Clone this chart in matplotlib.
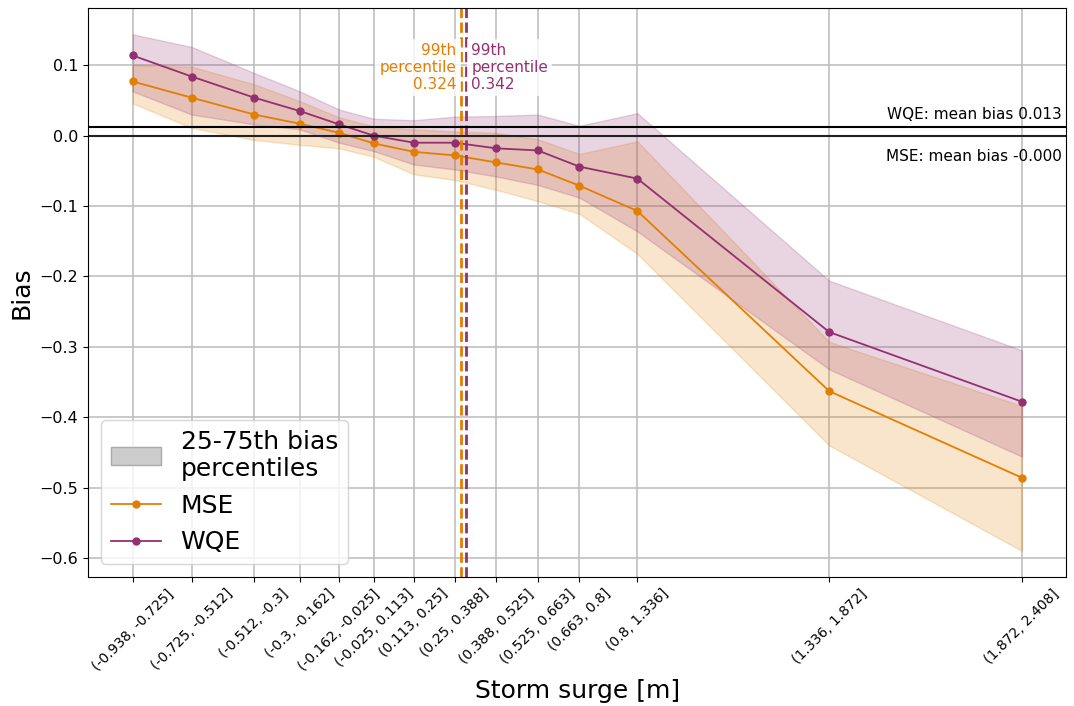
import matplotlib
matplotlib.use('Agg')
import matplotlib.pyplot as plt
import matplotlib.patches as mpatches
import matplotlib.lines as mlines

# bins of storm surge and the mean surge inside each bin
bins = ['(-0.938, -0.725]', '(-0.725, -0.512]', '(-0.512, -0.3]', '(-0.3, -0.162]',
        '(-0.162, -0.025]', '(-0.025, 0.113]', '(0.113, 0.25]', '(0.25, 0.388]',
        '(0.388, 0.525]', '(0.525, 0.663]', '(0.663, 0.8]', '(0.8, 1.336]',
        '(1.336, 1.872]', '(1.872, 2.408]']
x_mean = [-0.758, -0.563, -0.357, -0.207, -0.077, 0.037, 0.169, 0.303,
          0.440, 0.577, 0.714, 0.905, 1.537, 2.172]

# median bias per bin
mse_bias = [0.077, 0.054, 0.030, 0.017, 0.004, -0.011, -0.023, -0.028,
            -0.038, -0.048, -0.071, -0.107, -0.363, -0.486]
wqe_bias = [0.114, 0.084, 0.054, 0.035, 0.016, 0.000, -0.010, -0.010,
            -0.018, -0.021, -0.044, -0.061, -0.279, -0.378]

# 25th / 75th percentiles of bias
mse_q25 = [0.046, 0.011, -0.006, -0.013, -0.018, -0.030, -0.055, -0.063,
           -0.077, -0.093, -0.111, -0.168, -0.440, -0.590]
mse_q75 = [0.100, 0.098, 0.073, 0.049, 0.026, 0.013, 0.009, 0.006,
           0.004, -0.005, -0.026, -0.008, -0.293, -0.384]
wqe_q25 = [0.063, 0.030, 0.016, 0.009, -0.010, -0.022, -0.041, -0.048,
           -0.058, -0.070, -0.088, -0.136, -0.332, -0.456]
wqe_q75 = [0.144, 0.126, 0.089, 0.063, 0.037, 0.024, 0.022, 0.027,
           0.028, 0.030, 0.014, 0.032, -0.206, -0.305]

mse_p99 = 0.324
wqe_p99 = 0.342
mse_mean = -0.000
wqe_mean = 0.013

c_mse = '#e37f00'
c_wqe = '#93306f'

fig, ax = plt.subplots(figsize=(10.74, 7.06), dpi=100)
fig.subplots_adjust(left=0.082, right=0.993, top=0.988, bottom=0.183)

ax.fill_between(x_mean, mse_q25, mse_q75, color=c_mse, alpha=0.2)
ax.fill_between(x_mean, wqe_q25, wqe_q75, color=c_wqe, alpha=0.2)
ax.plot(x_mean, mse_bias, color=c_mse, marker='o', ms=5, lw=1.3)
ax.plot(x_mean, wqe_bias, color=c_wqe, marker='o', ms=5, lw=1.3)

ax.axvline(mse_p99, color=c_mse, ls='--', lw=2)
ax.axvline(wqe_p99, color=c_wqe, ls='--', lw=2)
box = dict(facecolor='white', alpha=0.8, edgecolor='none', pad=3)
ax.text(mse_p99 - 0.015, 0.097, '99th\npercentile\n%.3f' % mse_p99, color=c_mse,
        ha='right', va='center', multialignment='right', fontsize=11,
        linespacing=1.15, bbox=box)
ax.text(wqe_p99 + 0.016, 0.097, '99th\npercentile\n%.3f' % wqe_p99, color=c_wqe,
        ha='left', va='center', multialignment='left', fontsize=11,
        linespacing=1.15, bbox=box)

ax.axhline(wqe_mean, color='k', lw=1.5)
ax.axhline(mse_mean, color='#222222', lw=1.5)
trans = ax.get_yaxis_transform()
ax.text(0.995, wqe_mean + 0.006, 'WQE: mean bias %.3f' % wqe_mean,
        transform=trans, ha='right', va='bottom', fontsize=11)
ax.text(0.995, mse_mean - 0.019, 'MSE: mean bias %.3f' % mse_mean,
        transform=trans, ha='right', va='top', fontsize=11)

ax.set_xticks(x_mean)
ax.set_xticklabels(bins, rotation=45, fontsize=10)
ax.tick_params(axis='y', labelsize=11.5)
ax.grid(True, color='#bbbbbb', lw=1.1)
ax.set_axisbelow(True)
ax.set_xlabel('Storm surge [m]', fontsize=18)
ax.set_ylabel('Bias', fontsize=18)

handles = [mpatches.Patch(facecolor='#cccccc', edgecolor='#aaaaaa'),
           mlines.Line2D([], [], color=c_mse, marker='o', ms=5, lw=1.3),
           mlines.Line2D([], [], color=c_wqe, marker='o', ms=5, lw=1.3)]
ax.legend(handles, ['25-75th bias\npercentiles', 'MSE', 'WQE'],
          loc='lower left', fontsize=18)

fig.savefig('out.png', dpi=100)
